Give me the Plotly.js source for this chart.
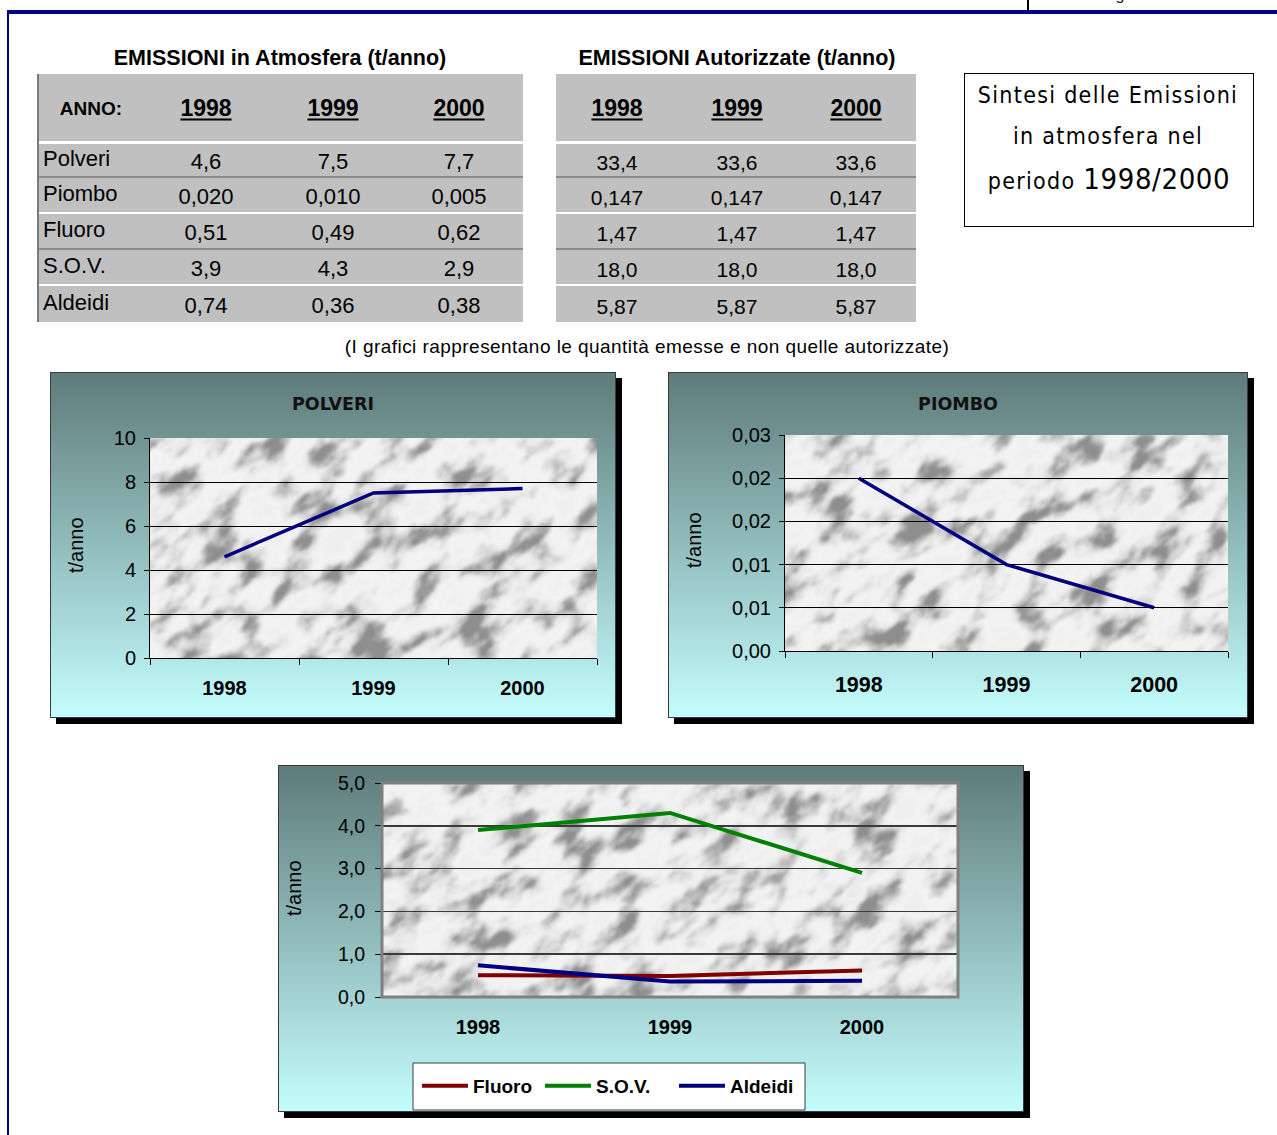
<!DOCTYPE html>
<html>
<head>
<meta charset="utf-8">
<script src="https://cdn.plot.ly/plotly-3.0.1.min.js"></script>
<style>
  html, body { margin: 0; padding: 0; background: #fff; }
  body { width: 1277px; height: 1135px; position: relative; overflow: hidden;
         font-family: "Liberation Sans", Arial, sans-serif; color: #000; }
  .abs { position: absolute; }
  .chartbg { position: absolute; box-sizing: border-box; border: 1px solid #3a3a3a;
             background: linear-gradient(to bottom, #5f7b7b 0%, #c4fdfd 100%);
             box-shadow: 6px 6px 0 #000; }
  .plot { position: absolute; left: -1px; top: -1px; }
</style>
</head>
<body>
<script>
// ---- data ---------------------------------------------------------------
const years = ['1998', '1999', '2000'];
const pollutants = ['Polveri', 'Piombo', 'Fluoro', 'S.O.V.', 'Aldeidi'];

// emissions released (t/anno)
const polveri = [4.6, 7.5, 7.7];
const piombo  = [0.020, 0.010, 0.005];
const fluoro  = [0.51, 0.49, 0.62];
const sov     = [3.9, 4.3, 2.9];
const aldeidi = [0.74, 0.36, 0.38];

// authorised emissions (t/anno)
const authPolveri = [33.4, 33.6, 33.6];
const authPiombo  = [0.147, 0.147, 0.147];
const authFluoro  = [1.47, 1.47, 1.47];
const authSov     = [18.0, 18.0, 18.0];
const authAldeidi = [5.87, 5.87, 5.87];

// decimals shown for each pollutant row
const rowDecimals = [1, 3, 2, 1, 2];

// tick labels
const polveriTicks = [0, 2, 4, 6, 8, 10];
const piomboTickVals = [0, 0.005, 0.010, 0.015, 0.020, 0.025];
const piomboTickText = ['0,00', '0,01', '0,01', '0,02', '0,02', '0,03'];
const altriTicks = [0, 1, 2, 3, 4, 5];

// ---- helpers ------------------------------------------------------------
const FONT = '"Liberation Sans", Arial, sans-serif';
const TITLE_FONT = '"DejaVu Sans", "Liberation Sans", sans-serif';
const fmt = (v, d) => v.toFixed(d).replace('.', ',');

function box(css, html) {
  const d = document.createElement('div');
  d.className = 'abs';
  Object.assign(d.style, css);
  if (html !== undefined) d.innerHTML = html;
  document.body.appendChild(d);
  return d;
}
// text centred on (cx, cy)
function textAt(cx, cy, txt, css) {
  return box(Object.assign({ left: cx + 'px', top: cy + 'px', whiteSpace: 'nowrap',
    transform: 'translate(-50%, -50%)', lineHeight: '1' }, css || {}), txt);
}
// text left aligned at x, vertically centred on cy
function textLeft(x, cy, txt, css) {
  return box(Object.assign({ left: x + 'px', top: cy + 'px', whiteSpace: 'nowrap',
    transform: 'translateY(-50%)', lineHeight: '1' }, css || {}), txt);
}

// ---- page frame -----------------------------------------------------------
box({ left: '7px', top: '10px', width: '1270px', height: '4px', background: '#000080' });
box({ left: '7px', top: '10px', width: '2px', height: '1125px', background: '#000080' });
box({ left: '1027px', top: '0px', width: '2px', height: '10px', background: '#000' });
box({ left: '1096px', top: '-13px', fontSize: '16px', lineHeight: '1', whiteSpace: 'nowrap', color: '#222' }, 'Pagina');

// ---- tables -------------------------------------------------------------
const rowTop = [144, 178, 214, 250, 286];
const rowBot = [176, 212, 248, 284, 322];
const separators = [[141, 3, '#ffffff'], [176, 2, '#8c8c8c'], [212, 2, '#ffffff'],
                    [248, 2, '#8c8c8c'], [284, 2, '#ffffff']];

function drawTable(left, width, cols, rows, withLabels, valSize) {
  box({ left: left + 'px', top: '74px', width: width + 'px', height: '248px', background: '#c0c0c0' });
  separators.forEach(s => box({ left: left + 'px', top: s[0] + 'px', width: width + 'px',
                                height: s[1] + 'px', background: s[2] }));
  if (withLabels) {
    box({ left: left + 'px', top: '74px', width: '2px', height: '248px', background: '#7a7a7a' });
    textAt(91, 108, 'ANNO:', { fontSize: '19px', fontWeight: 'bold' });
  }
  years.forEach((y, j) => textAt(cols[j], 108, y,
    { fontSize: '23px', fontWeight: 'bold', textDecoration: 'underline', textUnderlineOffset: '3px' }));
  rows.forEach((vals, i) => {
    const cy = (rowTop[i] + rowBot[i]) / 2;
    if (withLabels) textLeft(left + 6, cy - 1, pollutants[i], { fontSize: '22px' });
    vals.forEach((v, j) => textAt(cols[j], cy + 2, fmt(v, rowDecimals[i]), { fontSize: valSize + 'px' }));
  });
}

textAt(280, 59, 'EMISSIONI in Atmosfera (t/anno)', { fontSize: '21.5px', fontWeight: 'bold' });
textAt(737, 59, 'EMISSIONI Autorizzate (t/anno)', { fontSize: '21.5px', fontWeight: 'bold' });

drawTable(37, 486, [206, 333, 459], [polveri, piombo, fluoro, sov, aldeidi], true, 22);
drawTable(556, 360, [617, 737, 856], [authPolveri, authPiombo, authFluoro, authSov, authAldeidi], false, 21);

// summary box
box({ left: '964px', top: '73px', width: '290px', height: '154px', boxSizing: 'border-box',
      border: '1.5px solid #000', background: '#fff' });
const SB_FONT = '"DejaVu Sans Condensed", "DejaVu Sans", sans-serif';
const sbCss = { fontFamily: SB_FONT, fontSize: '23px', letterSpacing: '1.3px', color: '#000' };
textAt(1108, 95, 'Sintesi delle Emissioni', sbCss);
textAt(1108, 136, 'in atmosfera nel', sbCss);
textAt(1109, 179, 'periodo <span style="font-size:29px;letter-spacing:0.6px">1998/2000</span>', sbCss);

textAt(647, 346, '(I grafici rappresentano le quantità emesse e non quelle autorizzate)',
       { fontSize: '19px', letterSpacing: '0.45px' });

// ---- marble texture for the plotting areas ------------------------------------
function marble(w, h, seed) {
  const tv = '0.56 0.66 0.77 0.86 0.92 0.945 0.955 0.95 0.94';
  const svg = `<svg xmlns="http://www.w3.org/2000/svg" width="${w}" height="${h}" viewBox="0 0 ${w} ${h}">
<filter id="m" filterUnits="userSpaceOnUse" x="${-w}" y="${-h}" width="${3 * w}" height="${3 * h}" color-interpolation-filters="sRGB">
<feTurbulence type="fractalNoise" baseFrequency="0.022 0.042" numOctaves="5" seed="${seed}"/>
<feColorMatrix type="matrix" values="2.1 0 0 0 -0.55  2.1 0 0 0 -0.55  2.1 0 0 0 -0.55  0 0 0 0 1"/>
<feComponentTransfer>
<feFuncR type="table" tableValues="${tv}"/><feFuncG type="table" tableValues="${tv}"/><feFuncB type="table" tableValues="${tv}"/>
</feComponentTransfer>
<feGaussianBlur stdDeviation="1.1"/>
</filter>
<rect width="${w}" height="${h}" fill="#ebebeb"/>
<g transform="rotate(-40 ${w / 2} ${h / 2})"><rect x="${-w}" y="${-h}" width="${3 * w}" height="${3 * h}" fill="#fff" filter="url(#m)"/></g>
</svg>`;
  return 'data:image/svg+xml;charset=utf-8,' + encodeURIComponent(svg);
}
function marbleImage(w, h, seed) {
  return [{ source: marble(w, h, seed), xref: 'paper', yref: 'paper', x: 0, y: 1,
            sizex: 1, sizey: 1, sizing: 'stretch', xanchor: 'left', yanchor: 'top', layer: 'below' }];
}

// ---- charts ---------------------------------------------------------------
function chartHolder(id, left, top, w, h) {
  const bg = box({ left: left + 'px', top: top + 'px', width: w + 'px', height: h + 'px' });
  bg.className = 'chartbg';
  const p = document.createElement('div');
  p.id = id; p.className = 'plot';
  bg.appendChild(p);
  return p;
}

const cfg = { displayModeBar: false, staticPlot: true };
const NAVY = '#000080';

function baseLayout(w, h, margin) {
  return {
    width: w, height: h, margin: margin,
    paper_bgcolor: 'rgba(0,0,0,0)', plot_bgcolor: 'rgba(0,0,0,0)',
    separators: ',.', showlegend: false,
    font: { family: FONT, color: '#000' }
  };
}

// POLVERI
(function () {
  const W = 566, H = 346;
  const el = chartHolder('chartPolveri', 50, 372, W, H);
  const layout = baseLayout(W, H, { l: 100, r: 19, t: 66, b: 60 });
  Object.assign(layout, {
    title: { text: 'POLVERI', font: { family: TITLE_FONT, size: 17.5, weight: 'bold', color: '#111' },
             xref: 'container', x: 0.5, xanchor: 'center', yref: 'container', y: 1 - 32 / H, yanchor: 'middle' },
    xaxis: { type: 'category', range: [-0.5, 2.5], tickson: 'boundaries', ticks: 'outside', ticklen: 6, tickcolor: '#000',
             showline: true, linecolor: '#000', linewidth: 1, showgrid: false,
             tickfont: { family: FONT, size: 20, weight: 'bold' }, ticklabelstandoff: 12 },
    yaxis: { range: [0, 10], tickvals: polveriTicks, ticks: 'outside', ticklen: 5, tickcolor: '#000',
             showline: true, linecolor: '#000', showgrid: false, zeroline: false,
             tickfont: { family: FONT, size: 20 }, ticklabelstandoff: 4,
             minor: { tickvals: polveriTicks.slice(1, -1), showgrid: true, gridcolor: '#000', gridwidth: 1, ticks: '' } },
    images: marbleImage(447, 220, 4),
    annotations: [{ text: 't/anno', textangle: -90, xref: 'paper', yref: 'paper',
                    x: (76 - 150) / 447, y: (658 - 545) / 220, xanchor: 'center', yanchor: 'middle',
                    showarrow: false, font: { family: FONT, size: 20 } }]
  });
  Plotly.newPlot(el, [{ x: years, y: polveri, type: 'scatter', mode: 'lines',
                        line: { color: NAVY, width: 3.5 } }], layout, cfg);
})();

// PIOMBO
(function () {
  const W = 580, H = 346;
  const el = chartHolder('chartPiombo', 668, 372, W, H);
  const layout = baseLayout(W, H, { l: 117, r: 20, t: 63, b: 67 });
  Object.assign(layout, {
    title: { text: 'PIOMBO', font: { family: TITLE_FONT, size: 17.5, weight: 'bold', color: '#111' },
             xref: 'container', x: 0.5, xanchor: 'center', yref: 'container', y: 1 - 32 / H, yanchor: 'middle' },
    xaxis: { type: 'category', range: [-0.5, 2.5], tickson: 'boundaries', ticks: 'outside', ticklen: 6, tickcolor: '#000',
             showline: true, linecolor: '#000', linewidth: 1, showgrid: false,
             tickfont: { family: FONT, size: 21.5, weight: 'bold' }, ticklabelstandoff: 14 },
    yaxis: { range: [0, 0.025], tickvals: piomboTickVals, ticktext: piomboTickText,
             ticks: 'outside', ticklen: 5, tickcolor: '#000',
             showline: true, linecolor: '#000', showgrid: false, zeroline: false,
             tickfont: { family: FONT, size: 20 }, ticklabelstandoff: 4,
             minor: { tickvals: piomboTickVals.slice(1, -1), showgrid: true, gridcolor: '#000', gridwidth: 1, ticks: '' } },
    images: marbleImage(443, 216, 9),
    annotations: [{ text: 't/anno', textangle: -90, xref: 'paper', yref: 'paper',
                    x: (694 - 785) / 443, y: (651 - 540) / 216, xanchor: 'center', yanchor: 'middle',
                    showarrow: false, font: { family: FONT, size: 20 } }]
  });
  Plotly.newPlot(el, [{ x: years, y: piombo, type: 'scatter', mode: 'lines',
                        line: { color: NAVY, width: 3.5 } }], layout, cfg);
})();

// FLUORO / S.O.V. / ALDEIDI
(function () {
  const W = 746, H = 347;
  const el = chartHolder('chartAltri', 278, 765, W, H);
  const layout = baseLayout(W, H, { l: 104, r: 66, t: 18, b: 115 });
  const pw = 576, ph = 214;
  Object.assign(layout, {
    showlegend: true,
    xaxis: { type: 'category', range: [-0.5, 2.5], ticks: '', showline: false, showgrid: false,
             tickfont: { family: FONT, size: 20, weight: 'bold' }, ticklabelstandoff: 16 },
    yaxis: { range: [0, 5], tickvals: altriTicks, tickformat: '.1f', ticks: 'outside', ticklen: 6, tickcolor: '#000',
             showline: false, showgrid: false, zeroline: false,
             tickfont: { family: FONT, size: 19.5 }, ticklabelstandoff: 6,
             minor: { tickvals: altriTicks.slice(1, -1), showgrid: true, gridcolor: '#3a3a3a', gridwidth: 1.5, ticks: '' } },
    images: marbleImage(pw, ph, 21),
    shapes: [
      { type: 'rect', xref: 'paper', yref: 'paper', x0: 0, x1: 1, y0: 0, y1: 1, layer: 'above',
        line: { color: '#808080', width: 3 }, fillcolor: 'rgba(0,0,0,0)' },
      { type: 'rect', xref: 'paper', yref: 'paper', x0: (413 - 382) / pw, x1: (805 - 382) / pw,
        y0: (997 - 1110) / ph, y1: (997 - 1063) / ph, layer: 'above',
        line: { color: '#3a3a3a', width: 1 }, fillcolor: '#ffffff' }
    ],
    legend: { orientation: 'h', xref: 'paper', x: (417 - 382) / pw, xanchor: 'left',
              yref: 'container', y: 1 - (1086 - 765) / H, yanchor: 'middle',
              bgcolor: 'rgba(0,0,0,0)', borderwidth: 0,
              font: { family: FONT, size: 19, weight: 'bold', color: '#000' } },
    annotations: [{ text: 't/anno', textangle: -90, xref: 'paper', yref: 'paper',
                    x: (294 - 382) / pw, y: (997 - 888) / ph, xanchor: 'center', yanchor: 'middle',
                    showarrow: false, font: { family: FONT, size: 20 } }]
  });
  Plotly.newPlot(el, [
    { x: years, y: fluoro,  name: 'Fluoro',  type: 'scatter', mode: 'lines', legendwidth: 78,
      line: { color: '#800000', width: 4 } },
    { x: years, y: sov,     name: 'S.O.V.',  type: 'scatter', mode: 'lines', legendwidth: 89,
      line: { color: '#008000', width: 4 } },
    { x: years, y: aldeidi, name: 'Aldeidi', type: 'scatter', mode: 'lines', legendwidth: 92,
      line: { color: NAVY, width: 4 } }
  ], layout, cfg).then(gd => {
    // longer key lines in the legend, with the labels moved along to match
    gd.querySelectorAll('.legend .traces').forEach(tr => {
      tr.querySelectorAll('.legendlines path').forEach(p => p.setAttribute('d', 'M5,0h46'));
      const t = tr.querySelector('.legendtext');
      if (t) t.setAttribute('x', 56);
    });
  });
})();
</script>
</body>
</html>
